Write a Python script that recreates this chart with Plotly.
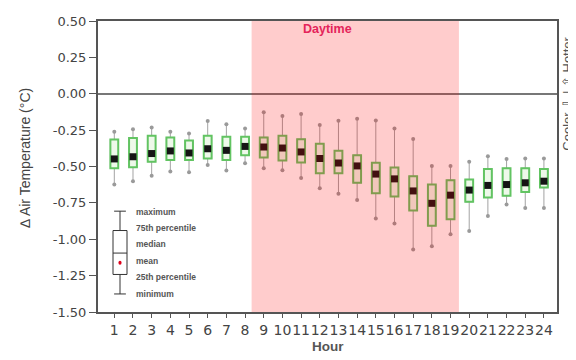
import plotly.graph_objects as go

hours = list(range(1, 25))
vmax = [-0.262, -0.244, -0.232, -0.262, -0.273, -0.188, -0.210, -0.239,
        -0.128, -0.153, -0.139, -0.214, -0.186, -0.172, -0.183, -0.239,
        -0.311, -0.496, -0.496, -0.467, -0.429, -0.449, -0.445, -0.445]
q3 = [-0.314, -0.304, -0.289, -0.300, -0.322, -0.289, -0.295, -0.295,
      -0.300, -0.289, -0.313, -0.344, -0.391, -0.423, -0.474, -0.507,
      -0.567, -0.624, -0.594, -0.589, -0.518, -0.512, -0.512, -0.518]
median = [-0.448, -0.433, -0.411, -0.393, -0.407, -0.378, -0.389, -0.362,
          -0.366, -0.373, -0.400, -0.445, -0.476, -0.496, -0.552, -0.585,
          -0.668, -0.753, -0.697, -0.662, -0.630, -0.624, -0.612, -0.601]
q1 = [-0.512, -0.505, -0.467, -0.456, -0.456, -0.445, -0.456, -0.422,
      -0.438, -0.458, -0.472, -0.547, -0.547, -0.612, -0.684, -0.706,
      -0.802, -0.907, -0.862, -0.743, -0.713, -0.701, -0.675, -0.645]
vmin = [-0.624, -0.601, -0.563, -0.534, -0.539, -0.490, -0.527, -0.478,
        -0.512, -0.525, -0.579, -0.649, -0.687, -0.731, -0.858, -0.892,
        -1.070, -1.048, -0.965, -0.943, -0.840, -0.762, -0.786, -0.786]

yticks = [0.5, 0.25, 0.0, -0.25, -0.5, -0.75, -1.0, -1.25, -1.5]
ytick_text = ["0.50", "0.25", "0.00", "-0.25", "-0.50", "-0.75", "-1.00", "-1.25", "-1.50"]
key_labels = ["maximum", "75th percentile", "median", "mean", "25th percentile", "minimum"]

FONT = "Liberation Sans, Arial, sans-serif"
TICKFONT = "DejaVu Sans, sans-serif"
GREEN = "#62c462"
GREY = "#a3a3a3"

fig = go.Figure()

# whiskers (grey)
fig.add_trace(go.Box(
    x=hours, q1=q1, median=median, q3=q3, lowerfence=vmin, upperfence=vmax,
    width=0.42, whiskerwidth=0, line=dict(color=GREY, width=1),
    fillcolor="rgba(0,0,0,0)", boxpoints=False, showlegend=False, hoverinfo="skip"))
# boxes (green)
fig.add_trace(go.Box(
    x=hours, q1=q1, median=median, q3=q3, lowerfence=q1, upperfence=q3,
    width=0.42, whiskerwidth=0, line=dict(color=GREEN, width=2),
    fillcolor="#eef9ea", boxpoints=False, showlegend=False))
# whisker end dots
fig.add_trace(go.Scatter(
    x=hours + hours, y=vmax + vmin, mode="markers",
    marker=dict(color="#9a9a9a", size=4), showlegend=False))
# median marker
fig.add_trace(go.Scatter(
    x=hours, y=median, mode="markers",
    marker=dict(symbol="square", color="#151515", size=7, line=dict(width=0)),
    showlegend=False))

shapes = [
    dict(type="rect", xref="x", yref="paper", x0=8.35, x1=19.45, y0=0, y1=1,
         fillcolor="red", opacity=0.2, line=dict(width=0), layer="above"),
    # key graphic
    dict(type="line", xref="x", yref="y", x0=1.305, x1=1.305, y0=-0.807, y1=-0.94,
         line=dict(color="#333", width=1)),
    dict(type="line", xref="x", yref="y", x0=1.305, x1=1.305, y0=-1.242, y1=-1.376,
         line=dict(color="#333", width=1)),
    dict(type="line", xref="x", yref="y", x0=0.99, x1=1.62, y0=-0.807, y1=-0.807,
         line=dict(color="#333", width=1)),
    dict(type="line", xref="x", yref="y", x0=0.99, x1=1.62, y0=-1.376, y1=-1.376,
         line=dict(color="#333", width=1)),
    dict(type="rect", xref="x", yref="y", x0=0.93, x1=1.68, y0=-1.242, y1=-0.94,
         fillcolor="white", line=dict(color="#333", width=1)),
    dict(type="line", xref="x", yref="y", x0=0.93, x1=1.68, y0=-1.095, y1=-1.095,
         line=dict(color="#333", width=1)),
    dict(type="circle", xref="x", yref="y", x0=1.22, x1=1.39, y0=-1.148, y1=-1.176,
         fillcolor="#e0001b", line=dict(width=0)),
]

key_y = [-0.813, -0.920, -1.034, -1.148, -1.262, -1.376]
annotations = [dict(x=2.05, y=ky, xref="x", yref="y", text="<b>%s</b>" % lab,
                    showarrow=False, xanchor="left", yanchor="middle",
                    font=dict(family=FONT, size=8.5, color="#555"))
               for ky, lab in zip(key_y, key_labels)]
annotations.append(dict(x=12.39, y=0.446, xref="x", yref="y", text="<b>Daytime</b>",
                        showarrow=False, yanchor="middle",
                        font=dict(family=FONT, size=12.5, color="#e4245a")))
annotations.append(dict(x=1.003, y=0, xref="paper", yref="y",
                        text="Cooler \u21e9 | \u21e7 Hotter", textangle=-90,
                        showarrow=False, xanchor="left", yanchor="middle",
                        font=dict(family=FONT, size=13, color="#555")))
annotations.append(dict(x=-0.159, y=0.53, xref="paper", yref="paper",
                        text="\u2206 Air Temperature (\u00b0C)", textangle=-90,
                        showarrow=False, xanchor="center", yanchor="middle",
                        font=dict(family=FONT, size=14, color="#444")))
annotations.append(dict(x=0.5, y=-0.117, xref="paper", yref="paper",
                        text="<b>Hour</b>", showarrow=False,
                        xanchor="center", yanchor="middle",
                        font=dict(family=FONT, size=13.5, color="#555")))

fig.update_layout(
    width=568, height=352,
    margin=dict(l=90, r=19, t=6, b=48),
    paper_bgcolor="white", plot_bgcolor="white",
    boxmode="overlay",
    shapes=shapes, annotations=annotations,
    font=dict(family=FONT, color="#444"),
    xaxis=dict(range=[0.127, 24.7], tickmode="array", tickvals=hours,
               ticktext=[str(h) for h in hours], ticks="outside", ticklen=4,
               tickangle=0, tickcolor="#555", showline=True, linecolor="#555",
               linewidth=2, mirror=True, showgrid=False, zeroline=False,
               tickfont=dict(family=TICKFONT, size=14, color="#444")),
    yaxis=dict(range=[-1.5, 0.5], tickmode="array", tickvals=yticks,
               ticktext=ytick_text, ticks="outside", ticklen=7, tickcolor="#555",
               showline=True, linecolor="#555", linewidth=2, mirror=True,
               showgrid=False, zeroline=True, zerolinecolor="#777", zerolinewidth=2,
               tickfont=dict(family=TICKFONT, size=13, color="#444")),
)

fig.write_html("out.html")
